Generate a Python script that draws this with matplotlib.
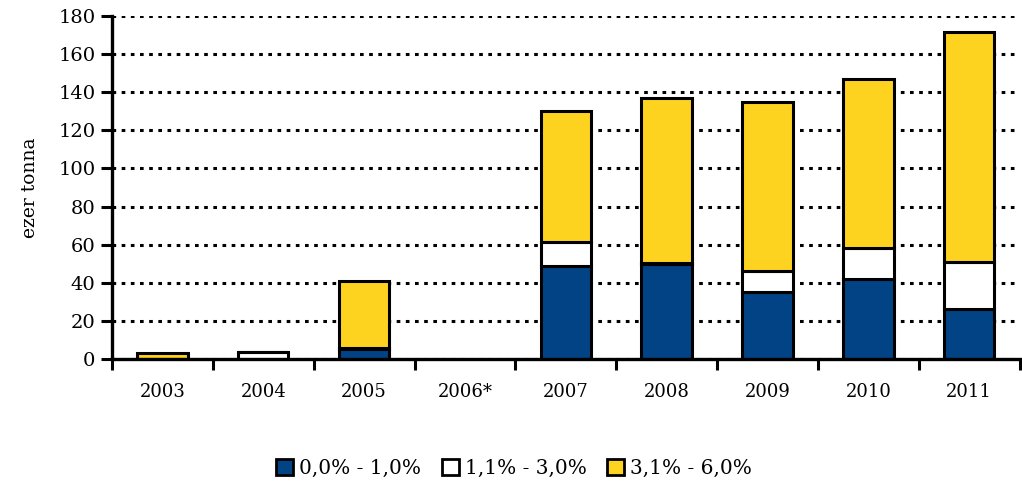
import numpy as np
import matplotlib.pyplot as plt
from matplotlib.patches import Patch

plt.rcParams['font.family'] = ['DejaVu Serif']

years = ['2003', '2004', '2005', '2006*', '2007', '2008', '2009', '2010', '2011']
low = [0, 0, 5, 0, 49, 50, 35, 42, 26]          # 0,0% - 1,0%
mid = [0, 3.5, 1, 0, 12.5, 0.5, 11, 16.5, 25]   # 1,1% - 3,0%
high = [3, 0.3, 35, 0, 68.5, 86.5, 89, 88.5, 120.5]  # 3,1% - 6,0%
labels = ['0,0% - 1,0%', '1,1% - 3,0%', '3,1% - 6,0%']
colors = ['#014385', '#ffffff', '#fdd320']

fig = plt.figure(figsize=(10.22, 4.83), dpi=100)
ax = fig.add_axes([0.1096, 0.2567, 0.888, 0.7102])

x = np.arange(len(years))
low = np.array(low)
mid = np.array(mid)
high = np.array(high)
bottoms = [np.zeros(len(x)), low, low + mid]
for vals, b, c in zip([low, mid, high], bottoms, colors):
    mask = vals > 0
    ax.bar(x[mask], vals[mask], bottom=b[mask], width=0.5, color=c,
           edgecolor='black', linewidth=2.2, zorder=3)

ax.set_xlim(-0.5, len(years) - 0.5)
ax.set_ylim(0, 180)
ax.set_yticks(range(0, 181, 20))
ax.set_xticks(x)
ax.set_xticklabels(years)
ax.set_xticks(np.arange(-0.5, len(years), 1.0), minor=True)
ax.tick_params(axis='x', which='major', length=0, pad=17, labelsize=13)
ax.tick_params(axis='x', which='minor', length=8, width=2.2, direction='out')
ax.tick_params(axis='y', length=8, width=2.2, direction='out', labelsize=14, pad=4)

ax.yaxis.grid(True, color='black', linestyle=(0, (1.2, 1.8)), linewidth=2.2, zorder=0)
ax.set_axisbelow(True)
for s in ['top', 'right']:
    ax.spines[s].set_visible(False)
for s in ['left', 'bottom']:
    ax.spines[s].set_linewidth(2.4)
ax.spines['bottom'].set_zorder(4)

ax.set_ylabel('ezer tonna', fontsize=13.5, labelpad=14)

handles = [Patch(facecolor=c, edgecolor='black', linewidth=2) for c in colors]
fig.legend(handles, labels, loc='center', bbox_to_anchor=(0.503, 0.03), ncol=3,
           frameon=False, fontsize=14.5, handlelength=0.85, handleheight=0.85,
           handletextpad=0.3, columnspacing=1.0)

fig.savefig('out.png', dpi=100)
